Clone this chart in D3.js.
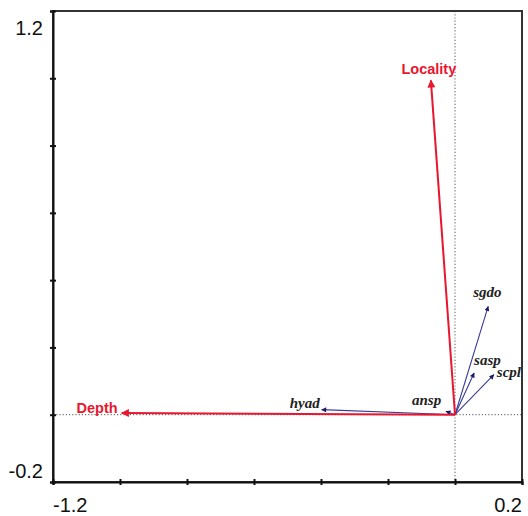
<!DOCTYPE html>
<html>
<head>
<meta charset="utf-8">
<script src="https://cdn.jsdelivr.net/npm/d3@7"></script>
<style>
    body { margin: 0; background: #fff; }
    .tick-label { font-family: Arial, "Liberation Sans", sans-serif; font-size: 20px; fill: #111; }
    .env-label { font-family: Arial, "Liberation Sans", sans-serif; font-size: 14.5px; font-weight: bold; fill: #e8162e; }
    .sp-label { font-family: "Times New Roman", "Liberation Serif", serif; font-size: 15px; font-style: italic; font-weight: bold; fill: #222; }
</style>
</head>
<body>
<svg id="chart"></svg>
<script>
// environmental vectors
const envNames = ["Locality", "Depth"];
const envX = [-0.072, -0.995];
const envY = [0.994, 0.005];

// species vectors
const spNames = ["sgdo", "sasp", "scpl", "ansp", "hyad"];
const spX = [0.099, 0.057, 0.116, -0.027, -0.398];
const spY = [0.322, 0.124, 0.119, 0.010, 0.015];

const xTicks = [-1.2, -1.0, -0.8, -0.6, -0.4, -0.2, 0, 0.2];
const yTicks = [-0.2, 0, 0.2, 0.4, 0.6, 0.8, 1.0, 1.2];

const width = 528, height = 516;
const margin = { top: 11, right: 6, bottom: 34, left: 53 };

const svg = d3.select("#chart").attr("width", width).attr("height", height);

const x = d3.scaleLinear().domain([-1.2, 0.2]).range([margin.left, width - margin.right]);
const y = d3.scaleLinear().domain([-0.2, 1.2]).range([height - margin.bottom, margin.top]);

const red = "#e8162e", blue = "#3b3b99";

// arrowheads
const defs = svg.append("defs");
defs.append("marker")
    .attr("id", "head-red")
    .attr("viewBox", "0 -5 10 10")
    .attr("refX", 9).attr("refY", 0)
    .attr("markerUnits", "userSpaceOnUse")
    .attr("markerWidth", 10).attr("markerHeight", 8)
    .attr("orient", "auto")
    .append("path").attr("d", "M0,-5L10,0L0,5Z").attr("fill", red);
defs.append("marker")
    .attr("id", "head-blue")
    .attr("viewBox", "0 -5 10 10")
    .attr("refX", 9).attr("refY", 0)
    .attr("markerUnits", "userSpaceOnUse")
    .attr("markerWidth", 6).attr("markerHeight", 5)
    .attr("orient", "auto")
    .append("path").attr("d", "M0,-5L10,0L0,5Z").attr("fill", "#1a1a66");

// dotted zero lines
svg.append("line")
    .attr("x1", x(0)).attr("x2", x(0))
    .attr("y1", y(1.2)).attr("y2", y(-0.2))
    .attr("stroke", "#777").attr("stroke-width", 1.2).attr("stroke-dasharray", "1.2,2");
svg.append("line")
    .attr("x1", x(-1.2)).attr("x2", x(0.2))
    .attr("y1", y(0)).attr("y2", y(0))
    .attr("stroke", "#777").attr("stroke-width", 1.2).attr("stroke-dasharray", "1.2,2");

// frame
svg.append("rect")
    .attr("x", x(-1.2)).attr("y", y(1.2))
    .attr("width", x(0.2) - x(-1.2)).attr("height", y(-0.2) - y(1.2))
    .attr("fill", "none").attr("stroke", "#333").attr("stroke-width", 2);

// axes ticks
const xAxis = d3.axisBottom(x).tickValues(xTicks).tickSize(3).tickFormat("");
const yAxis = d3.axisLeft(y).tickValues(yTicks).tickSize(3).tickFormat("");
const xg = svg.append("g").attr("transform", `translate(0,${y(-0.2)})`).call(xAxis);
const yg = svg.append("g").attr("transform", `translate(${x(-1.2)},0)`).call(yAxis);
[xg, yg].forEach(g => {
    g.select(".domain").attr("stroke", "#111").attr("stroke-width", 2);
    g.selectAll(".tick line").attr("stroke", "#111").attr("stroke-width", 2);
});
yg.selectAll(".tick line").attr("x2", 3).attr("x1", -3);
xg.selectAll(".tick line").attr("y1", -3).attr("y2", 3);

// end labels
svg.append("text").attr("class", "tick-label").attr("text-anchor", "end")
    .attr("x", x(-1.2) - 10).attr("y", y(1.2) + 24).text("1.2");
svg.append("text").attr("class", "tick-label").attr("text-anchor", "end")
    .attr("x", x(-1.2) - 10).attr("y", y(-0.2) - 4).text("-0.2");
svg.append("text").attr("class", "tick-label").attr("text-anchor", "start")
    .attr("x", x(-1.2)).attr("y", y(-0.2) + 30).text("-1.2");
svg.append("text").attr("class", "tick-label").attr("text-anchor", "end")
    .attr("x", x(0.2)).attr("y", y(-0.2) + 30).text("0.2");

// species arrows
const spLabelOffset = {
    sgdo: [-15, -9], sasp: [0, -8], scpl: [3, 2], ansp: [-34, -6], hyad: [-32, -2]
};
spNames.forEach((name, i) => {
    svg.append("line")
        .attr("x1", x(0)).attr("y1", y(0))
        .attr("x2", x(spX[i])).attr("y2", y(spY[i]))
        .attr("stroke", blue).attr("stroke-width", 1.1)
        .attr("marker-end", "url(#head-blue)");
});

// environmental arrows
envNames.forEach((name, i) => {
    svg.append("line")
        .attr("x1", x(0)).attr("y1", y(0))
        .attr("x2", x(envX[i])).attr("y2", y(envY[i]))
        .attr("stroke", red).attr("stroke-width", 2)
        .attr("marker-end", "url(#head-red)");
});

spNames.forEach((name, i) => {
    const off = spLabelOffset[name];
    svg.append("text").attr("class", "sp-label")
        .attr("x", x(spX[i]) + off[0]).attr("y", y(spY[i]) + off[1])
        .text(name);
});

const envLabelOffset = { Locality: [-2, -6, "middle"], Depth: [-4, 0, "end"] };
envNames.forEach((name, i) => {
    const off = envLabelOffset[name];
    svg.append("text").attr("class", "env-label")
        .attr("text-anchor", off[2])
        .attr("x", x(envX[i]) + off[0]).attr("y", y(envY[i]) + off[1])
        .text(name);
});
</script>
</body>
</html>
